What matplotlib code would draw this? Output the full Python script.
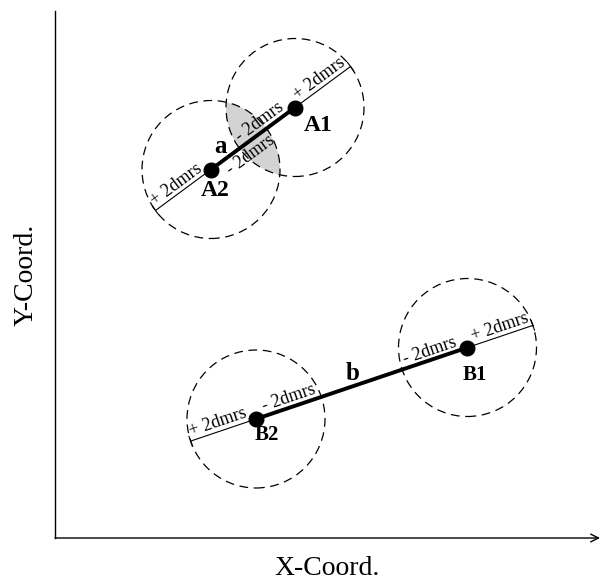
import numpy as np
import matplotlib.pyplot as plt
from matplotlib.patches import Circle

plt.rcParams['font.family'] = ['Liberation Serif', 'DejaVu Serif']

# point positions (arbitrary units, origin at the axes corner)
names = ['A1', 'A2', 'B1', 'B2']
xs = [4.80, 3.12, 8.25, 4.02]
ys = [8.61, 7.37, 3.81, 2.38]
radius = 1.38                    # circle = 2 dmrs around each point
pairs = [('A1', 'A2', 'a'), ('B1', 'B2', 'b')]
plus_label = '+ 2dmrs'
minus_label = '- 2dmrs'

pos = {n: np.array([x, y]) for n, x, y in zip(names, xs, ys)}

fig = plt.figure(figsize=(6.03, 5.80), dpi=100)
ax = fig.add_axes([55 / 603, 42 / 580, 545 / 603, 527 / 580])
ax.set_xlim(0, 545 / 50)
ax.set_ylim(0, 527 / 50)
ax.set_aspect('equal')

for s in ['top', 'right', 'bottom']:
    ax.spines[s].set_visible(False)
ax.spines['left'].set_linewidth(1.0)
ax.set_xticks([])
ax.set_yticks([])
ax.annotate('', xy=(1.0, 0), xytext=(0, 0), xycoords='axes fraction',
            arrowprops=dict(arrowstyle='->', lw=1.0, color='black',
                            shrinkA=0, shrinkB=0, mutation_scale=14))

ax.set_xlabel('X-Coord.', fontsize=20, labelpad=13)
ax.set_ylabel('Y-Coord.', fontsize=20, labelpad=12)

tick = 0.1          # half length of the end ticks
for p1, p2, seg in pairs:
    a, b = pos[p1], pos[p2]
    d = a - b
    dist = np.hypot(*d)
    u = d / dist
    n = np.array([-u[1], u[0]])
    ang = np.degrees(np.arctan2(u[1], u[0]))
    overlap = dist < 2 * radius

    # circles
    for c in (a, b):
        ax.add_patch(Circle(c, radius, fill=False, ec='black', lw=0.9,
                            ls=(0, (7, 4.5)), zorder=2))
    if overlap:
        clip = Circle(b, radius, transform=ax.transData)
        lens = Circle(a, radius, fc='#d3d3d3', ec='none', zorder=1)
        ax.add_patch(lens)
        lens.set_clip_path(clip)

    # thin line out to the circle edges, thick between the points
    e1 = a + radius * u
    e2 = b - radius * u
    ax.plot([e2[0], e1[0]], [e2[1], e1[1]], color='black', lw=0.8, zorder=3)
    for e in (e1, e2):
        ax.plot([e[0] - tick * n[0], e[0] + tick * n[0]],
                [e[1] - tick * n[1], e[1] + tick * n[1]], color='black', lw=0.8, zorder=3)
    ax.plot([b[0], a[0]], [b[1], a[1]], color='black', lw=2.8, zorder=4)
    ax.plot([a[0], b[0]], [a[1], b[1]], 'o', color='black', ms=10.5, zorder=5)

    # labels along the line (pixel offsets)
    up = 9
    low = -12 if overlap else 9
    items = [(a, 37, up, plus_label), (a, -37, up, minus_label),
             (b, -37, up, plus_label), (b, 40 if overlap else 38, low, minus_label)]
    for c, t, p, txt in items:
        off = t * u + p * n
        ax.annotate(txt, xy=c, xytext=off, textcoords='offset pixels',
                    ha='center', va='center', rotation=ang,
                    rotation_mode='anchor', fontsize=13, zorder=6)

    # segment name
    mid = (a + b) / 2
    seg_off = (-32, -8) if overlap else (-9, 10)
    ax.annotate(seg, xy=mid, xytext=seg_off, textcoords='offset pixels',
                ha='center', va='center', fontsize=18, fontweight='bold')

# point names
name_off = {'A1': (23, -18), 'A2': (4, -21), 'B1': (7, -28), 'B2': (11, -16)}
name_size = {'A1': 17, 'A2': 17, 'B1': 15, 'B2': 15}
for nm in names:
    ax.annotate(nm, xy=pos[nm], xytext=name_off[nm], textcoords='offset pixels',
                ha='center', va='center', fontsize=name_size[nm], fontweight='bold')

fig.savefig('out.png', dpi=100)
